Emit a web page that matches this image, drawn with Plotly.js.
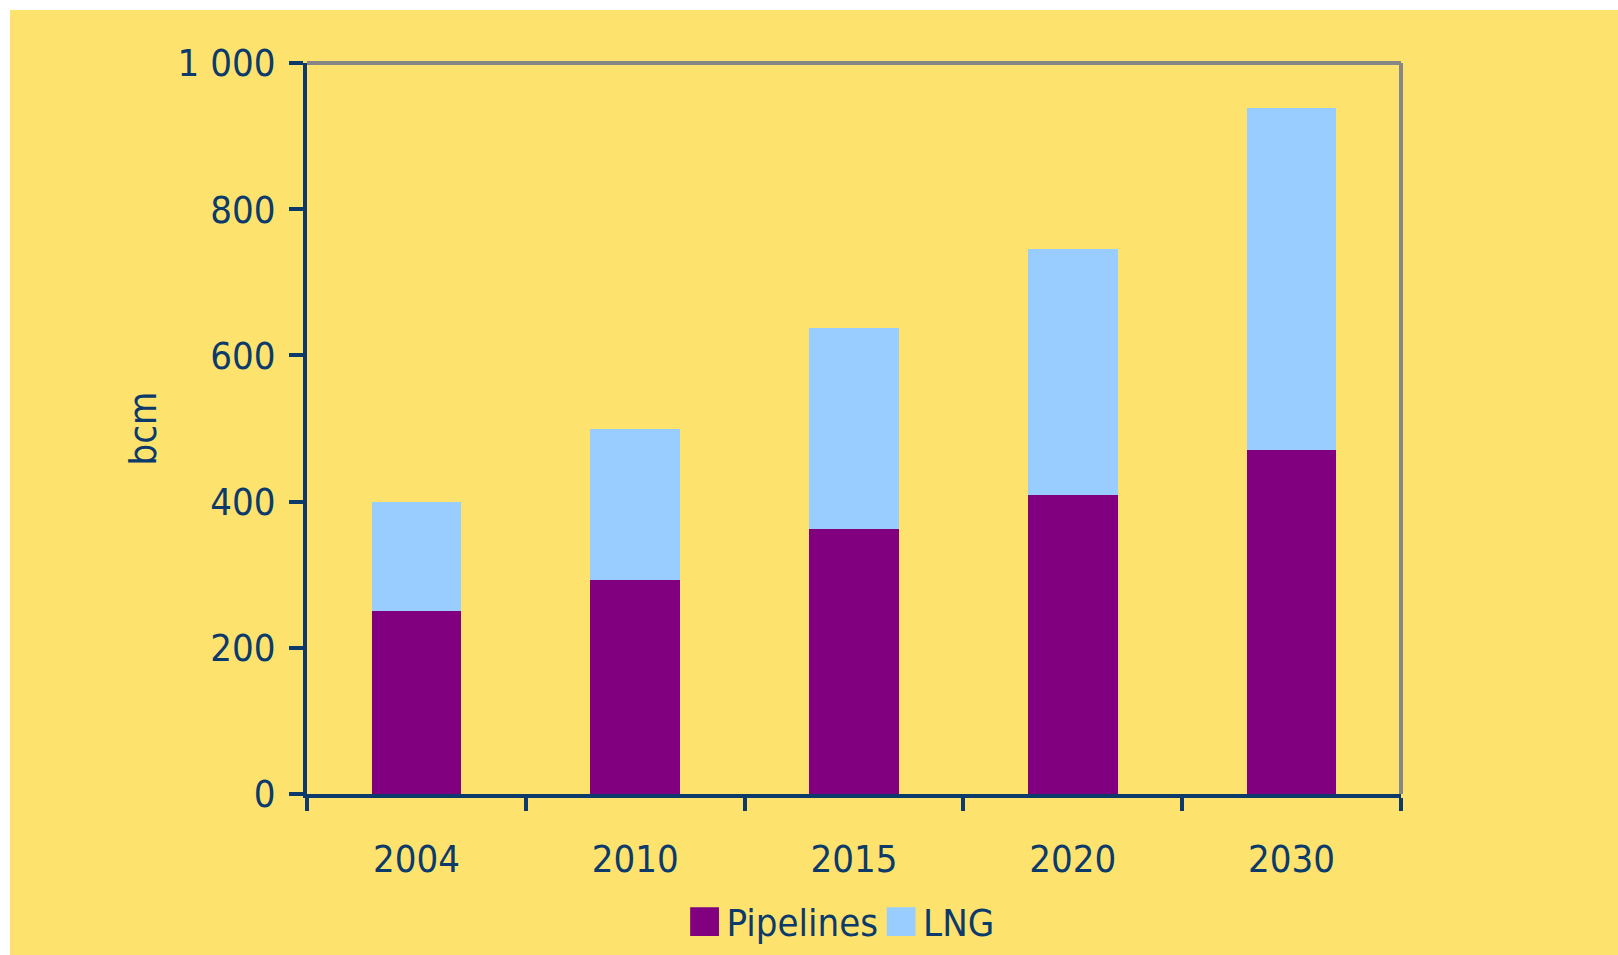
<!DOCTYPE html>
<html>
<head>
<meta charset="utf-8">
<script src="https://cdn.plot.ly/plotly-3.0.1.min.js"></script>
<style>
  html, body { margin: 0; padding: 0; background: #ffffff; width: 1618px; height: 955px; overflow: hidden; }
  #chart { position: absolute; left: 10px; top: 10px; width: 1608px; height: 945px; }
</style>
</head>
<body>
<div id="chart"></div>
<script>
const years = ['2004', '2010', '2015', '2020', '2030'];
const pipelines = [250, 293, 362, 409, 470];
const lng = [150, 207, 275, 337, 468];
const yTickVals = [0, 200, 400, 600, 800, 1000];
const yTickText = ['0', '200', '400', '600', '800', '1 000'];

const FONT = '"Liberation Sans Narrow", "DejaVu Sans Condensed", "Liberation Sans", Arial, sans-serif';
const NAVY = '#0b3a6b';
const BG = '#fde36d';

const traces = [
  { type: 'bar', name: 'Pipelines', x: years, y: pipelines,
    marker: { color: '#800080', line: { width: 0 } } },
  { type: 'bar', name: 'LNG', x: years, y: lng,
    marker: { color: '#99ccff', line: { width: 0 } } }
];

const layout = {
  width: 1608, height: 945,
  paper_bgcolor: BG, plot_bgcolor: BG,
  margin: { l: 297, r: 217, t: 53, b: 161 },
  barmode: 'stack',
  bargap: 0.59,
  font: { family: FONT, size: 38, color: NAVY },
  showlegend: true,
  legend: {
    orientation: 'h', traceorder: 'normal',
    xref: 'paper', x: 0.49, xanchor: 'center',
    yref: 'container', y: 0.035, yanchor: 'middle',
    font: { family: FONT, size: 38, color: NAVY },
    bgcolor: 'rgba(0,0,0,0)'
  },
  xaxis: {
    type: 'category',
    tickson: 'boundaries',
    ticks: 'outside', ticklen: 13, tickwidth: 4, tickcolor: NAVY,
    showline: true, linecolor: NAVY, linewidth: 4,
    showgrid: false, zeroline: false,
    tickfont: { family: FONT, size: 38, color: NAVY },
    ticklabelstandoff: 28
  },
  yaxis: {
    range: [0, 1000],
    tickvals: yTickVals, ticktext: yTickText,
    ticks: 'outside', ticklen: 14, tickwidth: 4, tickcolor: NAVY,
    showline: true, linecolor: NAVY, linewidth: 4,
    showgrid: false, zeroline: false,
    tickfont: { family: FONT, size: 38, color: NAVY },
    ticklabelstandoff: 6,
    title: { text: 'bcm', font: { family: FONT, size: 38, color: NAVY }, standoff: 10 }
  },
  shapes: [
    { type: 'line', xref: 'paper', yref: 'paper', x0: 0, x1: 1, y0: 1, y1: 1,
      line: { color: '#878787', width: 4 }, layer: 'above' },
    { type: 'line', xref: 'paper', yref: 'paper', x0: 1, x1: 1, y0: 0, y1: 1,
      line: { color: '#878787', width: 4 }, layer: 'above' }
  ]
};

Plotly.newPlot('chart', traces, layout, { displayModeBar: false, staticPlot: true }).then(function (gd) {
  // enlarge legend swatches to match the reference's large squares
  gd.querySelectorAll('.legend .legendpoints path').forEach(function (p) {
    p.setAttribute('transform', 'translate(18,0) scale(2.4)');
  });
});
</script>
</body>
</html>
